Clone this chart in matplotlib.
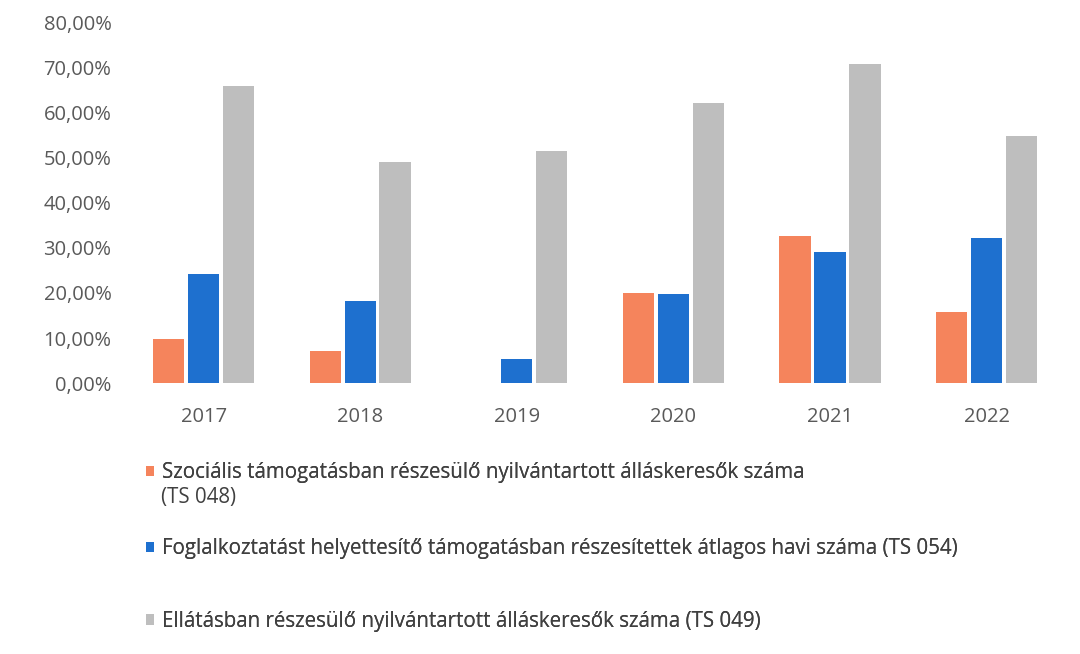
import numpy as np
import matplotlib.pyplot as plt
from matplotlib.ticker import FuncFormatter

# Data (percent)
years = ['2017', '2018', '2019', '2020', '2021', '2022']
ts048 = [9.9, 7.2, 0.0, 20.1, 32.6, 15.8]
ts054 = [24.2, 18.3, 5.3, 19.8, 29.1, 32.2]
ts049 = [65.8, 49.1, 51.5, 62.0, 70.8, 54.9]

labels = [
    'Szociális támogatásban részesülő nyilvántartott álláskeresők száma',
    'Foglalkoztatást helyettesítő támogatásban részesítettek átlagos havi száma (TS 054)',
    'Ellátásban részesülő nyilvántartott álláskeresők száma (TS 049)',
]
label1_wrap = '(TS 048)'  # second line of the first legend entry
colors = ['#F5845C', '#1E70CF', '#BEBEBE']

plt.rcParams['font.family'] = ['Open Sans', 'DejaVu Sans']

fig = plt.figure(figsize=(10.8, 6.54), dpi=100)
ax = fig.add_axes([0.116, 0.414, 0.87, 0.552])

x = np.arange(len(years))
w = 0.2
step = 0.223
bars = []
for i, (vals, col) in enumerate(zip([ts048, ts054, ts049], colors)):
    b = ax.bar(x + (i - 1) * step, vals, width=w, color=col, zorder=2)
    bars.append(b)

ax.set_xlim(-0.5, len(years) - 0.5)
ax.set_ylim(0, 80)
ax.set_yticks(np.arange(0, 81, 10))
ax.yaxis.set_major_formatter(FuncFormatter(lambda v, p: f'{v:.2f}%'.replace('.', ',')))
ax.set_xticks(x)
ax.set_xticklabels(years)
for s in ax.spines.values():
    s.set_visible(False)
ax.tick_params(axis='both', length=0, colors='#595959', labelsize=14.5)
ax.tick_params(axis='y', pad=10)
ax.tick_params(axis='x', pad=17)

# Legend entries, one per row
legend_y = [0.277, 0.161, 0.050]
for b, lab, ly in zip(bars, labels, legend_y):
    leg = fig.legend([b], [lab], loc='center left', bbox_to_anchor=(0.118, ly),
                     frameon=False, fontsize=14.8, handlelength=0.4, handleheight=0.4,
                     handletextpad=0.4, labelcolor='#404040')
    fig.add_artist(leg)
fig.text(0.1495, 0.240, label1_wrap, fontsize=14.8, color='#404040', va='center', ha='left')

plt.savefig('out.png', dpi=100)
